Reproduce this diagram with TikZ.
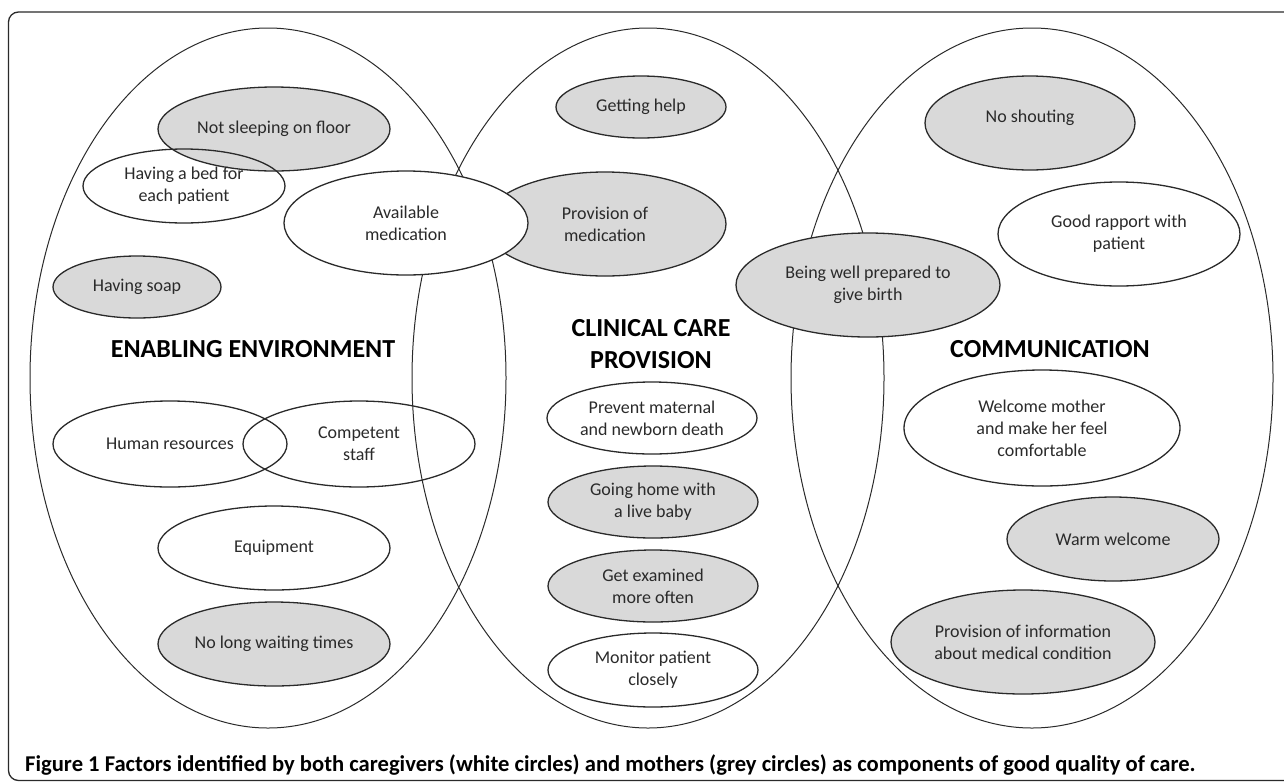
\documentclass[tikz,border=0pt]{standalone}
\usepackage{fontspec}
\setmainfont{Carlito}
\usetikzlibrary{shapes.geometric}
\definecolor{bubgrey}{HTML}{D9D9D9}
\definecolor{ink}{HTML}{2A2A2A}
\newcommand\lblfont{\fontsize{18}{22}\selectfont}
\newcommand\headfont{\fontsize{26}{32}\selectfont\bfseries}
\tikzset{
  bigset/.style={ellipse, draw=ink, line width=1pt, inner sep=0pt},
  bubble/.style={ellipse, draw=ink, line width=1.3pt, inner sep=-8pt, align=center, font=\lblfont, text=ink},
  greybub/.style={bubble, fill=bubgrey},
  whitebub/.style={bubble, fill=white},
  openbub/.style={bubble},
  head/.style={align=center, font=\headfont, text=black, inner sep=0pt},
}
\begin{document}
\begin{tikzpicture}[x=1pt, y=-1pt]
\useasboundingbox (0,0) rectangle (1284,782);
\begin{scope}
\clip (0,0) rectangle (1284,782);
\draw[ink, line width=1.3pt, rounded corners=10pt] (8.5,12) rectangle (1330,780.5);
\end{scope}
% big sets
\node[bigset, minimum width=476pt, minimum height=700pt] (setL) at (268,378) {};
\node[bigset, minimum width=472pt, minimum height=700pt] (setM) at (648,378) {};
\node[bigset, minimum width=482pt, minimum height=700pt] (setR) at (1032,378) {};
% grey bubbles (mothers)
\node[greybub, minimum width=232pt, minimum height=84pt] (notsleep) at (274,129) {Not sleeping on floor};
\node[greybub, minimum width=168pt, minimum height=62pt] (soap) at (137,287) {Having soap};
\node[greybub, minimum width=170pt, minimum height=62pt] (help) at (641,107) {Getting help};
\node[greybub, minimum width=242pt, minimum height=104pt] (provmed) at (605,224) {Provision of\\medication};
\node[greybub, minimum width=210pt, minimum height=94pt] (noshout) at (1030,123) {No shouting\\[-8pt]};
\node[greybub, minimum width=264pt, minimum height=104pt] (prepared) at (868,285) {Being well prepared to\\give birth};
\node[greybub, minimum width=232pt, minimum height=84pt] (nolong) at (274,644) {No long waiting times};
\node[greybub, minimum width=210pt, minimum height=72pt] (gohome) at (653,502) {Going home with\\a live baby};
\node[greybub, minimum width=210pt, minimum height=72pt] (examined) at (653,586) {Get examined\\more often};
\node[greybub, minimum width=212pt, minimum height=84pt] (warm) at (1113,539) {Warm welcome};
\node[greybub, minimum width=264pt, minimum height=104pt] (provinfo) at (1023,642) {Provision of information\\about medical condition};
% white bubbles (caregivers)
\node[openbub, minimum width=202pt, minimum height=74pt] (bed) at (184,186) {Having a bed for\\each patient};
\node[whitebub, minimum width=244pt, minimum height=104pt] (availmed) at (406,223) {Available\\medication};
\node[openbub, minimum width=234pt, minimum height=86pt] (humres) at (170,444) {Human resources};
\node[openbub, minimum width=232pt, minimum height=86pt] (competent) at (359,444) {Competent\\staff};
\node[openbub, minimum width=232pt, minimum height=84pt] (equip) at (274,548) {Equipment};
\node[openbub, minimum width=210pt, minimum height=72pt] (prevent) at (652,418) {Prevent maternal\\and newborn death};
\node[openbub, minimum width=210pt, minimum height=74pt] (monitor) at (653,670) {Monitor patient\\closely};
\node[openbub, minimum width=242pt, minimum height=104pt] (rapport) at (1119,234) {Good rapport with\\patient};
\node[openbub, minimum width=276pt, minimum height=116pt] (welcome) at (1042,428) {Welcome mother\\and make her feel\\comfortable};
% headings
\node[head] (hEnv) at (253,349) {ENABLING ENVIRONMENT};
\node[head] (hClin) at (651,344) {CLINICAL CARE\\PROVISION};
\node[head] (hComm) at (1050,349) {COMMUNICATION};
% caption
\node[anchor=west, inner sep=0pt, font=\fontsize{22.6}{26}\selectfont\bfseries, text=black] (caption) at (25,765)
  {Figure 1 Factors identified by both caregivers (white circles) and mothers (grey circles) as components of good quality of care.};
\end{tikzpicture}
\end{document}
